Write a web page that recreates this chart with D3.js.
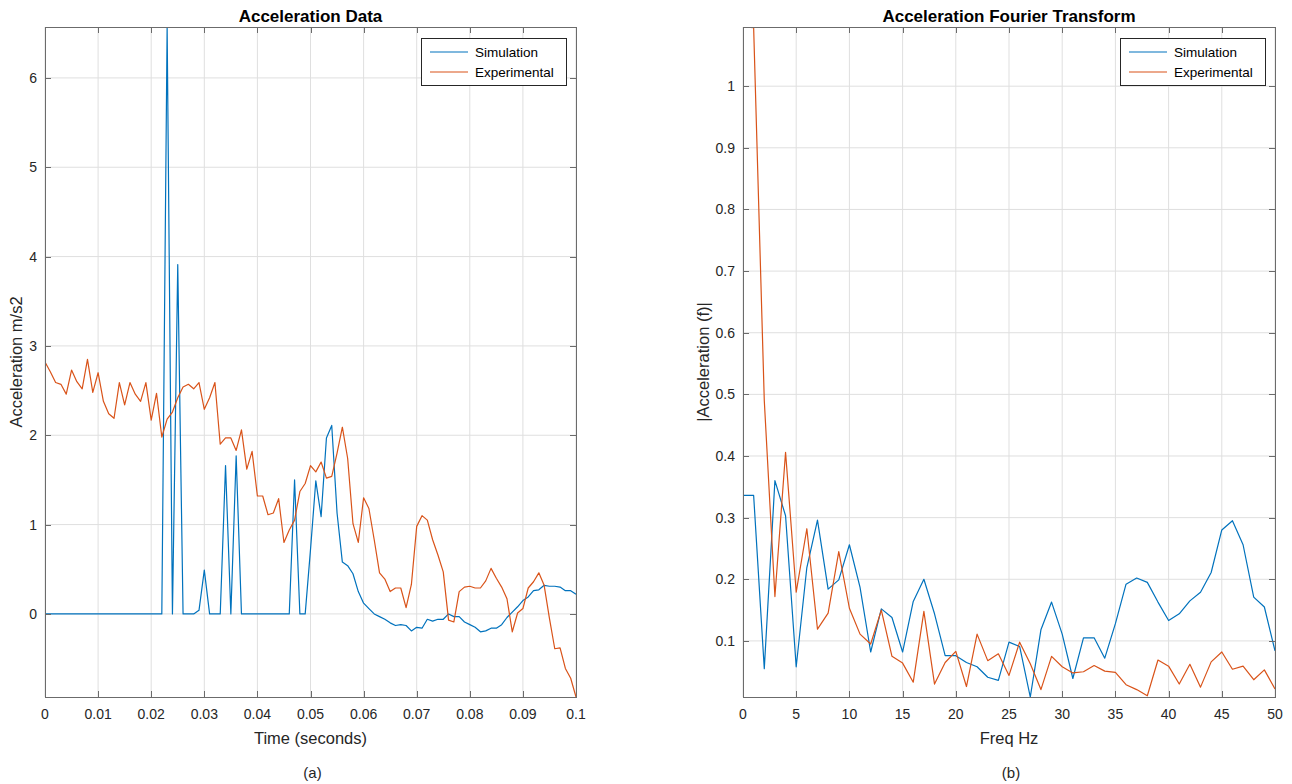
<!DOCTYPE html>
<html>
<head>
<meta charset="utf-8">
<script src="https://cdn.jsdelivr.net/npm/d3@7/dist/d3.min.js"></script>
<style>
  body { margin: 0; background: #fff; }
  svg { display: block; font-family: "Liberation Sans", Arial, sans-serif; }
  .grid line { stroke: #dfdfdf; stroke-width: 1; }
  .frame { fill: none; stroke: #6b6b6b; stroke-width: 1; }
  .tick-mark { stroke: #6b6b6b; stroke-width: 1; }
  .tick-label { font-size: 14px; fill: #262626; }
  .axis-label { font-size: 16.5px; fill: #262626; }
  .title { font-size: 17px; font-weight: bold; fill: #000; }
  .legend-text { font-size: 13.5px; fill: #000; }
</style>
</head>
<body>
<svg id="chart" width="1292" height="784"></svg>
<script>
// sample grids (1 ms steps, 1 Hz bins)
const timeSec = d3.range(101).map(i => i / 1000);
const freqHz = d3.range(51);

// Acceleration Data
const simAccel = [
  0, 0, 0, 0, 0, 0, 0, 0, 0, 0,
  0, 0, 0, 0, 0, 0, 0, 0, 0, 0,
  0, 0, 0, 6.57, 0, 3.91, 0, 0, 0, 0.04,
  0.49, 0, 0, 0, 1.66, 0, 1.77, 0, 0, 0,
  0, 0, 0, 0, 0, 0, 0, 1.50, 0, 0,
  0.72, 1.49, 1.09, 1.97, 2.11, 1.13, 0.58, 0.54, 0.45, 0.25,
  0.12, 0.06, 0.0, -0.03, -0.06, -0.10, -0.13, -0.12, -0.13, -0.19,
  -0.15, -0.16, -0.06, -0.08, -0.06, -0.06, 0.0, -0.03, -0.03, -0.09,
  -0.12, -0.15, -0.20, -0.19, -0.16, -0.16, -0.12, -0.04, 0.02, 0.08,
  0.15, 0.19, 0.26, 0.27, 0.32, 0.31, 0.31, 0.30, 0.26, 0.26,
  0.22
];
const expAccel = [
  2.82, 2.71, 2.59, 2.57, 2.46, 2.73, 2.60, 2.52, 2.85, 2.48,
  2.70, 2.38, 2.24, 2.19, 2.59, 2.34, 2.59, 2.46, 2.38, 2.59,
  2.17, 2.47, 1.98, 2.18, 2.26, 2.42, 2.54, 2.57, 2.52, 2.59,
  2.29, 2.42, 2.59, 1.90, 1.97, 1.97, 1.83, 2.06, 1.62, 1.82,
  1.32, 1.32, 1.11, 1.13, 1.29, 0.80, 0.94, 1.05, 1.37, 1.46,
  1.66, 1.59, 1.70, 1.52, 1.54, 1.80, 2.09, 1.74, 1.01, 0.80,
  1.30, 1.18, 0.83, 0.46, 0.39, 0.25, 0.29, 0.29, 0.07, 0.33,
  0.98, 1.10, 1.05, 0.83, 0.66, 0.47, -0.07, -0.09, 0.25, 0.30,
  0.31, 0.29, 0.29, 0.37, 0.51, 0.40, 0.30, 0.17, -0.20, 0.01,
  0.06, 0.29, 0.36, 0.46, 0.32, -0.05, -0.39, -0.38, -0.61, -0.72,
  -0.93
];

// Acceleration Fourier Transform
const simFft = [
  0.336, 0.336, 0.055, 0.360, 0.303, 0.058, 0.219, 0.296, 0.184, 0.199,
  0.256, 0.187, 0.082, 0.152, 0.138, 0.082, 0.164, 0.200, 0.144, 0.076,
  0.076, 0.065, 0.058, 0.041, 0.036, 0.098, 0.091, 0.009, 0.118, 0.163,
  0.111, 0.039, 0.105, 0.105, 0.072, 0.128, 0.192, 0.202, 0.195, 0.163,
  0.133, 0.144, 0.165, 0.179, 0.211, 0.280, 0.295, 0.256, 0.171, 0.155,
  0.084
];
const expFft = [
  1.096, 1.095, 0.490, 0.172, 0.406, 0.179, 0.282, 0.119, 0.145, 0.245,
  0.153, 0.111, 0.095, 0.150, 0.075, 0.064, 0.033, 0.148, 0.030, 0.065,
  0.083, 0.026, 0.111, 0.068, 0.079, 0.044, 0.098, 0.063, 0.021, 0.075,
  0.058, 0.048, 0.050, 0.060, 0.051, 0.049, 0.029, 0.021, 0.011, 0.069,
  0.059, 0.030, 0.062, 0.025, 0.066, 0.082, 0.054, 0.059, 0.037, 0.053,
  0.022
];

const seriesNames = ["Simulation", "Experimental"];
const seriesColors = ["#0072BD", "#D95319"];

const timeTicks = d3.range(0, 0.1001, 0.01);
const accelTicks = [0, 1, 2, 3, 4, 5, 6];
const freqTicks = d3.range(0, 51, 5);
const fftTicks = [0.1, 0.2, 0.3, 0.4, 0.5, 0.6, 0.7, 0.8, 0.9, 1];

const svg = d3.select("#chart");

function drawPanel(opts) {
  const { id, left, right, top, bottom, xs, ys, xTicks, yTicks, xFmt, title, xLabel, yLabel, caption } = opts;

  const allY = ys.flat();
  const x = d3.scaleLinear().domain(d3.extent(xs)).range([left, right]);
  const y = d3.scaleLinear().domain(d3.extent(allY)).range([bottom, top]);

  const g = svg.append("g").attr("id", id);

  g.append("clipPath").attr("id", id + "-clip")
    .append("rect")
      .attr("x", left).attr("y", top)
      .attr("width", right - left).attr("height", bottom - top);

  // Grid
  const grid = g.append("g").classed("grid", true);
  grid.selectAll(".gx").data(xTicks).enter().append("line")
      .attr("x1", d => x(d)).attr("x2", d => x(d))
      .attr("y1", top).attr("y2", bottom);
  grid.selectAll(".gy").data(yTicks).enter().append("line")
      .attr("x1", left).attr("x2", right)
      .attr("y1", d => y(d)).attr("y2", d => y(d));

  // Lines
  const line = d3.line().x((d, i) => x(xs[i])).y(d => y(d));
  const linesG = g.append("g").attr("clip-path", `url(#${id}-clip)`);
  ys.forEach((vals, k) => {
    linesG.append("path")
        .attr("d", line(vals))
        .attr("fill", "none")
        .attr("stroke", seriesColors[k])
        .attr("stroke-width", 1.2)
        .attr("stroke-linejoin", "round");
  });

  // Frame + inward ticks on all sides
  g.append("rect").classed("frame", true)
      .attr("x", left + 0.5).attr("y", top + 0.5)
      .attr("width", right - left).attr("height", bottom - top);

  const tl = 6;
  xTicks.forEach(d => {
    const px = Math.round(x(d)) + 0.5;
    g.append("line").classed("tick-mark", true)
        .attr("x1", px).attr("x2", px).attr("y1", bottom).attr("y2", bottom - tl);
    g.append("line").classed("tick-mark", true)
        .attr("x1", px).attr("x2", px).attr("y1", top).attr("y2", top + tl);
    g.append("text").classed("tick-label", true)
        .attr("x", x(d)).attr("y", bottom + 22)
        .attr("text-anchor", "middle")
        .text(xFmt(d));
  });
  yTicks.forEach(d => {
    const py = Math.round(y(d)) + 0.5;
    g.append("line").classed("tick-mark", true)
        .attr("x1", left).attr("x2", left + tl).attr("y1", py).attr("y2", py);
    g.append("line").classed("tick-mark", true)
        .attr("x1", right).attr("x2", right - tl).attr("y1", py).attr("y2", py);
    g.append("text").classed("tick-label", true)
        .attr("x", left - 8).attr("y", y(d) + 5)
        .attr("text-anchor", "end")
        .text(d3.format("~g")(d));
  });

  const cx = (left + right) / 2;
  g.append("text").classed("title", true)
      .attr("x", cx).attr("y", 22).attr("text-anchor", "middle").text(title);
  g.append("text").classed("axis-label", true)
      .attr("x", cx).attr("y", 744).attr("text-anchor", "middle").text(xLabel);
  g.append("text").classed("axis-label", true)
      .attr("transform", `translate(${opts.yLabelX}, ${(top + bottom) / 2}) rotate(-90)`)
      .attr("text-anchor", "middle").text(yLabel);
  g.append("text").classed("axis-label", true)
      .style("font-size", "15px")
      .attr("x", cx + 2).attr("y", 778).attr("text-anchor", "middle").text(caption);

  // Legend
  const lw = 145, lh = 47;
  const lx = right - 10 - lw, ly = top + 11;
  const leg = g.append("g").attr("transform", `translate(${lx}, ${ly})`);
  leg.append("rect")
      .attr("x", 0.5).attr("y", 0.5).attr("width", lw).attr("height", lh)
      .attr("fill", "#fff").attr("stroke", "#262626").attr("stroke-width", 1);
  seriesNames.forEach((name, k) => {
    const ry = 14 + k * 20;
    leg.append("line")
        .attr("x1", 9).attr("x2", 47).attr("y1", ry).attr("y2", ry)
        .attr("stroke", seriesColors[k]).attr("stroke-width", 1.2);
    leg.append("text").classed("legend-text", true)
        .attr("x", 54).attr("y", ry + 4.5).text(name);
  });
}

drawPanel({
  id: "accel",
  left: 45, right: 576, top: 27, bottom: 697,
  xs: timeSec, ys: [simAccel, expAccel],
  xTicks: timeTicks, yTicks: accelTicks,
  xFmt: d => d3.format("~g")(+d.toFixed(2)),
  title: "Acceleration Data",
  xLabel: "Time (seconds)",
  yLabel: "Acceleration m/s2",
  yLabelX: 22,
  caption: "(a)"
});

drawPanel({
  id: "fft",
  left: 743, right: 1275, top: 27, bottom: 697,
  xs: freqHz, ys: [simFft, expFft],
  xTicks: freqTicks, yTicks: fftTicks,
  xFmt: d => String(d),
  title: "Acceleration Fourier Transform",
  xLabel: "Freq Hz",
  yLabel: "|Acceleration (f)|",
  yLabelX: 709,
  caption: "(b)"
});
</script>
</body>
</html>
